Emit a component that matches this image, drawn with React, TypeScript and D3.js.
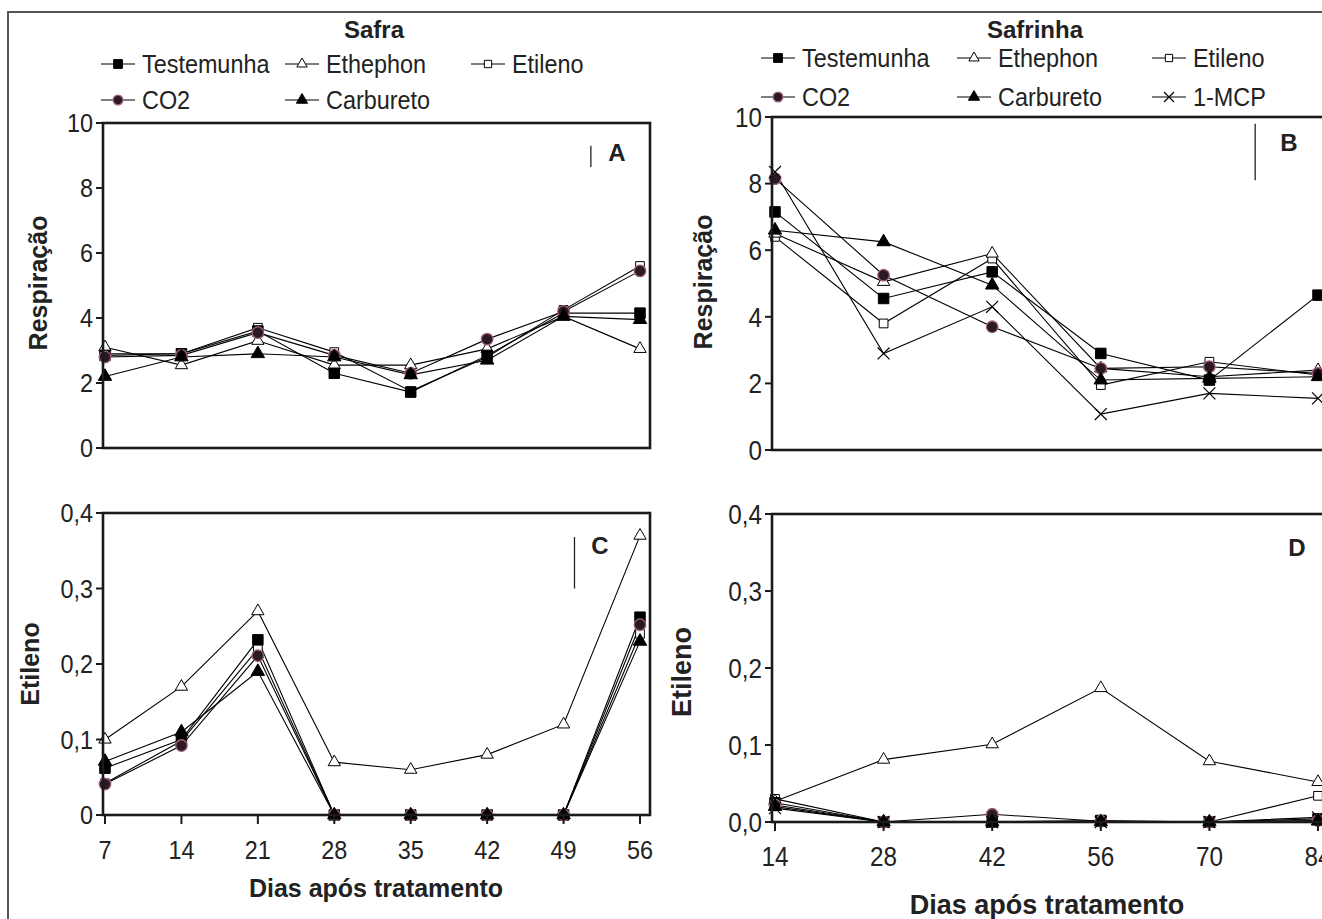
import React from 'react';
import * as d3 from 'd3';

// days after treatment
const safraDays = [7, 14, 21, 28, 35, 42, 49, 56];
const safrinhaDays = [14, 28, 42, 56, 70, 84];

// Respiração - Safra (A)
const respSafraTestemunha = [2.85, 2.9, 3.6, 2.3, 1.72, 2.85, 4.15, 4.15];
const respSafraEthephon = [3.1, 2.55, 3.3, 2.55, 2.55, 3.05, 4.05, 3.05];
const respSafraEtileno = [2.9, 2.9, 3.7, 2.95, 1.75, 2.8, 4.25, 5.6];
const respSafraCO2 = [2.8, 2.85, 3.55, 2.85, 2.3, 3.35, 4.2, 5.45];
const respSafraCarbureto = [2.2, 2.8, 2.9, 2.8, 2.25, 2.7, 4.05, 3.95];

// Respiração - Safrinha (B)
const respSafrinhaTestemunha = [7.15, 4.55, 5.35, 2.9, 2.1, 4.65];
const respSafrinhaEthephon = [6.5, 5.05, 5.9, 2.45, 2.2, 2.4];
const respSafrinhaEtileno = [6.4, 3.8, 5.75, 1.95, 2.65, 2.25];
const respSafrinhaCO2 = [8.15, 5.25, 3.7, 2.45, 2.5, 2.3];
const respSafrinhaCarbureto = [6.6, 6.25, 4.95, 2.1, 2.15, 2.2];
const respSafrinha1MCP = [8.35, 2.9, 4.3, 1.08, 1.7, 1.55];

// Etileno - Safra (C)
const etiSafraTestemunha = [0.062, 0.1, 0.232, 0, 0, 0, 0, 0.262];
const etiSafraEthephon = [0.1, 0.17, 0.27, 0.07, 0.06, 0.08, 0.12, 0.37];
const etiSafraEtileno = [0.042, 0.098, 0.22, 0, 0, 0, 0, 0.24];
const etiSafraCO2 = [0.041, 0.092, 0.211, 0, 0, 0, 0, 0.252];
const etiSafraCarbureto = [0.071, 0.11, 0.19, 0, 0, 0, 0, 0.23];

// Etileno - Safrinha (D)
const etiSafrinhaTestemunha = [0.025, 0, 0, 0.002, 0, 0.004];
const etiSafrinhaEthephon = [0.027, 0.081, 0.101, 0.174, 0.079, 0.052];
const etiSafrinhaEtileno = [0.03, 0, 0, 0, 0, 0.034];
const etiSafrinhaCO2 = [0.022, 0, 0.01, 0.001, 0, 0.002];
const etiSafrinhaCarbureto = [0.02, 0, 0, 0, 0, 0.001];
const etiSafrinha1MCP = [0.018, 0, 0, 0, 0, 0.006];

const respTicks = [0, 2, 4, 6, 8, 10];
const etiTicks = [0, 0.1, 0.2, 0.3, 0.4];

// LSD bars [day, low, high]
const lsdA = [51.5, 8.65, 9.3];
const lsdB = [75.9, 8.1, 9.8];
const lsdC = [50.0, 0.3, 0.368];

const FONT = "'Liberation Sans', Arial, Helvetica, sans-serif";
const CO2_FILL = '#2a1a24';
const CO2_STROKE = '#a0607e';
const SX = 0.9; // the original font is a bit narrow

// text helper, regular text is slightly condensed
const Txt = ({ x, y, size, bold = false, anchor = 'start', rotate = 0, children }: any) => (
  <text
    transform={`translate(${x},${y}) rotate(${rotate}) scale(${bold ? 1 : SX},1)`}
    dy="0.36em"
    textAnchor={anchor}
    style={{ fontFamily: FONT, fontSize: size, fontWeight: bold ? 'bold' : 'normal', fill: '#222' }}
  >
    {children}
  </text>
);

const markerPath = (kind: string, size = 1) => {
  const types: any = {
    sqFill: [d3.symbolSquare, 110],
    sqOpen: [d3.symbolSquare, 76],
    triFill: [d3.symbolTriangle, 78],
    triOpen: [d3.symbolTriangle, 66],
    circle: [d3.symbolCircle, 105],
    times: [d3.symbolTimes, 95]
  };
  const [t, s] = types[kind];
  return d3.symbol().type(t).size(s * size)();
};

const Marker = ({ kind, x, y, size = 1 }: any) => {
  let fill = 'black';
  let stroke = 'black';
  let sw = 1;
  if (kind === 'sqOpen' || kind === 'triOpen') fill = 'white';
  if (kind === 'circle') {
    fill = CO2_FILL;
    stroke = CO2_STROKE;
    sw = 1.3;
  }
  if (kind === 'times') {
    fill = 'none';
    sw = 1.2;
  }
  return (
    <path
      d={markerPath(kind, size) as string}
      transform={`translate(${x},${y})`}
      style={{ fill, stroke, strokeWidth: sw }}
    />
  );
};

const safraSeries = (vals: number[][]) => [
  { name: 'Etileno', kind: 'sqOpen', values: vals[2] },
  { name: 'Ethephon', kind: 'triOpen', values: vals[1] },
  { name: 'Testemunha', kind: 'sqFill', values: vals[0] },
  { name: 'CO2', kind: 'circle', values: vals[3] },
  { name: 'Carbureto', kind: 'triFill', values: vals[4] }
];

const safrinhaSeries = (vals: number[][]) => [
  ...safraSeries(vals),
  { name: '1-MCP', kind: 'times', values: vals[5] }
];

const panels = [
  {
    id: 'A',
    days: safraDays,
    box: [103, 650, 123, 448],
    xRange: [105, 640],
    yMax: 10,
    ticks: respTicks,
    fmt: (d: number) => String(d),
    tickSize: 26,
    series: safraSeries([
      respSafraTestemunha, respSafraEthephon, respSafraEtileno, respSafraCO2, respSafraCarbureto
    ]),
    xAxis: false,
    yTitle: 'Respiração',
    yTitleSize: 25,
    yTitlePos: [38, 283],
    letterPos: [617, 152],
    lsd: lsdA
  },
  {
    id: 'B',
    days: safrinhaDays,
    box: [772, 1340, 117, 450],
    xRange: [775, 1318],
    yMax: 10,
    ticks: respTicks,
    fmt: (d: number) => String(d),
    tickSize: 27,
    series: safrinhaSeries([
      respSafrinhaTestemunha, respSafrinhaEthephon, respSafrinhaEtileno,
      respSafrinhaCO2, respSafrinhaCarbureto, respSafrinha1MCP
    ]),
    xAxis: false,
    yTitle: 'Respiração',
    yTitleSize: 25,
    yTitlePos: [703, 282],
    letterPos: [1289, 142],
    lsd: lsdB
  },
  {
    id: 'C',
    days: safraDays,
    box: [103, 650, 513, 815],
    xRange: [105, 640],
    yMax: 0.4,
    ticks: etiTicks,
    fmt: (d: number) => (d === 0 ? '0' : d3.format('.1f')(d).replace('.', ',')),
    tickSize: 26,
    series: safraSeries([
      etiSafraTestemunha, etiSafraEthephon, etiSafraEtileno, etiSafraCO2, etiSafraCarbureto
    ]),
    xAxis: true,
    xLabelY: 850,
    xTitlePos: [376, 888],
    xTitleSize: 25,
    yTitle: 'Etileno',
    yTitleSize: 25,
    yTitlePos: [30, 664],
    letterPos: [600, 545],
    lsd: lsdC
  },
  {
    id: 'D',
    days: safrinhaDays,
    box: [772, 1340, 514, 822],
    xRange: [775, 1318],
    yMax: 0.4,
    ticks: etiTicks,
    fmt: (d: number) => d3.format('.1f')(d).replace('.', ','),
    tickSize: 27,
    series: safrinhaSeries([
      etiSafrinhaTestemunha, etiSafrinhaEthephon, etiSafrinhaEtileno,
      etiSafrinhaCO2, etiSafrinhaCarbureto, etiSafrinha1MCP
    ]),
    xAxis: true,
    xLabelY: 856,
    xTitlePos: [1047, 904],
    xTitleSize: 27,
    yTitle: 'Etileno',
    yTitleSize: 27,
    yTitlePos: [681, 672],
    letterPos: [1297, 547],
    lsd: null
  }
];

const Panel = ({ p }: any) => {
  const [l, r, t, b] = p.box;
  const x = d3.scaleLinear().domain([p.days[0], p.days[p.days.length - 1]]).range(p.xRange);
  const y = d3.scaleLinear().domain([0, p.yMax]).range([b, t]);
  const line = d3
    .line<number>()
    .x((_, i) => x(p.days[i]))
    .y(d => y(d));

  return (
    <g>
      {p.series.map((s: any) => (
        <path key={s.name} d={line(s.values) as string} fill="none" stroke="black" strokeWidth={1.1} />
      ))}
      {p.series.map((s: any) =>
        s.values.map((v: number, i: number) => (
          <Marker key={s.name + i} kind={s.kind} x={x(p.days[i])} y={y(v)} />
        ))
      )}
      <rect x={l} y={t} width={r - l} height={b - t} fill="none" stroke="#1a1a1a" strokeWidth={2.6} />
      {p.ticks.map((d: number) => (
        <g key={d}>
          <line x1={l - 7} x2={l} y1={y(d)} y2={y(d)} stroke="#1a1a1a" strokeWidth={2} />
          <Txt x={l - 10} y={y(d)} size={p.tickSize} anchor="end">
            {p.fmt(d)}
          </Txt>
        </g>
      ))}
      {p.xAxis &&
        p.days.map((d: number) => (
          <g key={'x' + d}>
            <line x1={x(d)} x2={x(d)} y1={b} y2={b + 9} stroke="#1a1a1a" strokeWidth={2} />
            <Txt x={x(d)} y={p.xLabelY} size={p.tickSize} anchor="middle">
              {d}
            </Txt>
          </g>
        ))}
      {p.xAxis && (
        <Txt x={p.xTitlePos[0]} y={p.xTitlePos[1]} size={p.xTitleSize} bold anchor="middle">
          Dias após tratamento
        </Txt>
      )}
      <Txt x={p.yTitlePos[0]} y={p.yTitlePos[1]} size={p.yTitleSize} bold anchor="middle" rotate={-90}>
        {p.yTitle}
      </Txt>
      <Txt x={p.letterPos[0]} y={p.letterPos[1]} size={24} bold anchor="middle">
        {p.id}
      </Txt>
      {p.lsd && (
        <line
          x1={x(p.lsd[0])}
          x2={x(p.lsd[0])}
          y1={y(p.lsd[1])}
          y2={y(p.lsd[2])}
          stroke="#222"
          strokeWidth={1.3}
        />
      )}
    </g>
  );
};

// legend entries: [label, kind, column, row]
const safraLegend = [
  ['Testemunha', 'sqFill', 0, 0],
  ['Ethephon', 'triOpen', 1, 0],
  ['Etileno', 'sqOpen', 2, 0],
  ['CO2', 'circle', 0, 1],
  ['Carbureto', 'triFill', 1, 1]
];
const safrinhaLegend = [...safraLegend, ['1-MCP', 'times', 2, 1]];

const Legend = ({ title, items, titleX, cols, rows, titleY }: any) => (
  <g>
    <Txt x={titleX} y={titleY} size={24} bold anchor="middle">
      {title}
    </Txt>
    {items.map(([label, kind, c, r]: any) => {
      const lx = cols[c];
      const ly = rows[r];
      return (
        <g key={label}>
          <line x1={lx} x2={lx + 34} y1={ly} y2={ly} stroke="black" strokeWidth={1.2} />
          <Marker kind={kind} x={lx + 17} y={ly} size={0.7} />
          <Txt x={lx + 41} y={ly} size={26}>
            {label}
          </Txt>
        </g>
      );
    })}
  </g>
);

export default function App() {
  return (
    <svg
      width={1322}
      height={919}
      style={{ position: 'absolute', left: 0, top: 0, background: 'white' }}
    >
      <rect x={8} y={12} width={1400} height={1000} fill="white" stroke="#555" strokeWidth={2} />
      <Legend title="Safra" titleX={374} titleY={29} items={safraLegend} cols={[101, 285, 471]} rows={[64, 100]} />
      <Legend
        title="Safrinha"
        titleX={1035}
        titleY={29}
        items={safrinhaLegend}
        cols={[761, 957, 1152]}
        rows={[58, 97]}
      />
      {panels.map(p => (
        <Panel key={p.id} p={p} />
      ))}
    </svg>
  );
}
